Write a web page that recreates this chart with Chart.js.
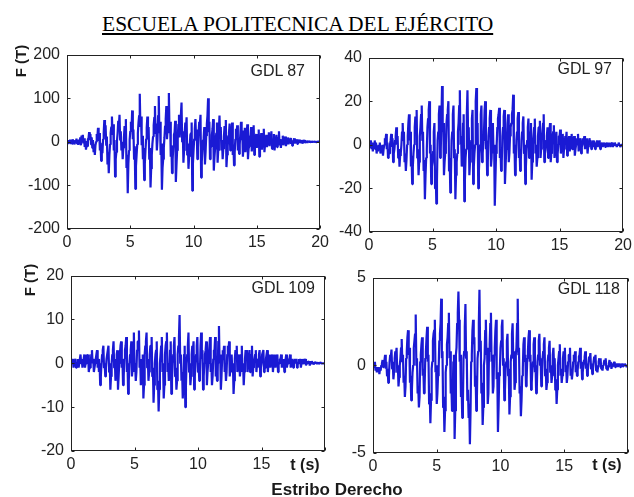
<!DOCTYPE html>
<html>
<head>
<meta charset="utf-8">
<script src="https://cdn.jsdelivr.net/npm/chart.js@4.4.1/dist/chart.umd.min.js"></script>
<style>
  body { margin: 0; background: #fff; }
  #hoja { position: relative; width: 634px; height: 497px; overflow: hidden; background: #fff; }
  canvas { position: absolute; }
  .txt { position: absolute; white-space: nowrap; color: #1a1a1a; font-family: "Liberation Sans", Arial, sans-serif; }
  .centro { transform: translate(-50%, -50%); }
  .vertical { transform: translate(-50%, -50%) rotate(-90deg); font-weight: bold; font-size: 15px; }
  .gdl { font-size: 16px; transform: translate(-100%, -50%); color: #222; }
  .ts { font-size: 16px; font-weight: bold; }
  #titulo { left: 102px; top: 12px; font-family: "Liberation Serif", "Times New Roman", serif; font-size: 21.5px; text-decoration: underline; color: #000; }
</style>
</head>
<body>
<div id="hoja">
  <div class="txt" id="titulo">ESCUELA POLITECNICA DEL EJÉRCITO</div>

  <canvas id="c87"></canvas>
  <canvas id="c97"></canvas>
  <canvas id="c109"></canvas>
  <canvas id="c118"></canvas>

  <div class="txt vertical" style="left:20px; top:61px;">F (T)</div>
  <div class="txt vertical" style="left:29px; top:280px;">F (T)</div>

  <div class="txt gdl" style="left:305px; top:71px;">GDL 87</div>
  <div class="txt gdl" style="left:612px; top:69px;">GDL 97</div>
  <div class="txt gdl" style="left:315px; top:288px;">GDL 109</div>
  <div class="txt gdl" style="left:620px; top:289px;">GDL 118</div>

  <div class="txt ts centro" style="left:305px; top:465px;">t (s)</div>
  <div class="txt ts centro" style="left:607px; top:465px;">t (s)</div>
  <div class="txt ts centro" style="left:337px; top:490px; font-size:17px;">Estribo Derecho</div>
</div>

<script>
// paso de muestreo (s)
const dt = 0.05;

// fuerzas en el estribo derecho (T), 20 muestras por segundo, una fila por segundo
const gdl87 = [
  0, 3, -3, 4, -2, 5, -5, 2, -4, 6, -3, 1, -6, 4, -2, 7, -4, 3, -7, 5,
  -2, 10, -8, 14, 2, 16, -4, 8, -12, 2, -18, -4, -10, 6, 8, 22, 4, 18, -6, 10,
  -14, 4, -24, -6, -30, -8, 0, 18, 10, 32, 2, 20, -20, -2, -44, -18, -26, 6, 20, 50,
  14, 38, -8, 12, -52, -24, -72, -30, -6, 20, 34, 58, 16, 40, -20, 4, -80, -40, -24, 2,
  20, 48, 36, 62, 4, 24, -20, 0, -40, -14, 10, 36, 28, 52, -60, -30, -118, -50, -20, 4,
  24, 46, 30, 72, 6, 28, -40, -10, -108, -56, -30, -6, 20, 44, 60, 110, 34, 58, -8, 14,
  -40, -14, -88, -50, -20, 6, 32, 58, 10, 34, -40, -14, -105, -62, -30, -4, 12, 38, 56, 82,
  18, 42, -20, 4, 60, 105, 20, 46, -30, -4, -110, -60, -40, -14, 10, 36, 52, 82, 6, 30,
  70, 112, 20, 46, -34, -8, -72, -40, -10, 16, 22, 48, -92, -56, -20, 6, 40, 62, 10, 34,
  62, 90, 0, 24, -48, -20, 20, 44, 30, 56, -30, -4, -62, -34, -10, 16, 20, 44, -112, -50,
  -20, 6, 30, 52, 4, 28, -40, -14, 20, 46, 40, 62, -82, -46, -20, 4, 10, 34, -52, -24,
  14, 40, 60, 100, 22, 46, -40, -14, -10, 16, 30, 52, -66, -36, -16, 8, 20, 44, -48, -20,
  26, 60, 10, 34, -20, 4, -40, -16, 12, 36, 24, 50, -58, -30, -10, 14, 20, 42, -20, 2,
  20, 44, -30, -6, -54, -26, 6, 30, 16, 38, -20, 2, -28, -6, 20, 46, 4, 26, -34, -10,
  10, 32, -24, -2, 18, 40, -40, -16, -10, 12, 14, 34, -22, -2, 6, 38, -30, -8, 2, 18,
  -14, 6, 10, 28, -34, -12, 0, 20, -18, 2, 12, 30, -24, -6, 2, 16, -12, 4, 8, 22,
  -10, 8, 4, 24, -16, -2, 6, 18, -20, -4, 2, 16, -12, 2, 10, 24, -8, 6, -14, 0,
  4, 14, -8, 4, 6, 12, -10, -2, 2, 10, -6, 4, 0, 9, -5, 3, -9, 0, 2, 8,
  -4, 3, 0, 6, -5, 1, 2, 5, -3, 2, -1, 4, -4, 0, 1, 4, -3, 1, -1, 3,
  -2, 1, 0, 2, -2, 1, 0, 2, -1, 1, -1, 1, 0, 1, -1, 0, 0, 1, 0, 0,
  0
];

const gdl97 = [
  0, 2, -1, 2, -2, 1, -3, 0, -1, 2, -2, 1, -4, -1, -3, 0, -2, 1, -4, -1,
  -3, 0, -5, -2, 0, 3, 2, 5, -2, 1, -6, -2, -4, 0, 2, 5, -1, 3, -8, -4,
  -2, 2, 4, 8, 0, 4, -6, -2, -10, -5, -4, 0, 6, 10, 2, 6, -8, -4, -12, -7,
  0, 4, 10, 14, 2, 6, -10, -5, -18, -10, -4, 0, 8, 13, 12, 16, -6, -2, -14, -8,
  4, 8, 14, 18, 2, 6, -12, -7, -25, -14, -6, -2, 8, 12, 16, 20, -4, 0, -18, -10,
  -8, -3, 6, 10, -20, -12, -27, -16, 2, 6, 14, 18, -6, -2, 12, 27, 6, 10, -14, -8,
  -4, 0, 10, 14, 16, 20, -12, -6, -22, -14, 2, 6, 14, 18, -6, -2, -25, -14, -8, -4,
  6, 10, 18, 25, 0, 4, -10, -6, 10, 14, -26, -16, -6, -2, 14, 25, 4, 8, -14, -8,
  -2, 2, 12, 16, -18, -10, -4, 0, 20, 26, 6, 10, -20, -12, -4, 0, 14, 18, -8, -4,
  2, 6, 16, 20, -2, 2, -14, -8, 4, 8, 12, 16, -10, -6, 6, 10, -4, 0, -28, -16,
  -4, 0, 8, 12, 14, 17, -6, -2, -12, -8, 4, 8, 13, 16, -18, -10, -2, 2, 10, 14,
  -8, -4, 4, 8, 10, 14, 16, 23, -4, 0, -14, -8, 2, 6, 12, 15, -6, -2, -12, -7,
  2, 6, 10, 13, -4, 0, -18, -10, -2, 2, 8, 12, -6, -2, 6, 10, -16, -8, 0, 4,
  8, 12, -4, 0, -10, -6, 4, 8, 8, 11, -6, -2, 2, 6, 10, 14, -8, -4, -2, 2,
  4, 8, -6, -2, 6, 10, -8, -4, 0, 4, 6, 9, -6, -2, 2, 6, -8, -4, 0, 4,
  4, 7, -4, -1, 2, 5, -6, -2, 0, 4, 2, 6, -5, -2, 1, 4, -3, 0, 2, 5,
  -2, 1, 2, 4, -5, -2, 0, 3, 2, 5, -3, 0, 1, 3, -4, -1, 0, 3, 2, 4,
  -2, 0, 1, 3, -4, -1, 0, 3, 1, 2, -2, 0, 0, 2, -1, 1, -2, 0, 1, 2,
  -1, 1, 0, 2, -2, 0, 0, 1, -1, 1, 0, 1, -1, 0, 0, 1, -1, 0, 0, 1,
  -1, 0, 0, 1, -1, 0, 0, 1, 0, 0, -1, 0, 0, 1, 0, 0, -1, 0, 0, 0,
  0
];

const gdl109 = [
  0, 1, 0, 1, -1, 0, 0, 1, -1, 0, 0, 1, -1, 0, 1, 2, 0, 1, -1, 0,
  1, 2, -1, 0, 0, 2, 1, 2, -2, -1, -1, 0, 2, 3, 0, 1, -2, -1, 0, 1,
  2, 3, -1, 1, -2, 0, -5, -3, 0, 2, 3, 4, -1, 0, -3, -1, 1, 2, 2, 4,
  -2, 0, -6, -3, 0, 2, 3, 5, -1, 1, -4, -2, 2, 3, -6, -3, 0, 2, 4, 5,
  -1, 1, -5, -3, 1, 3, 4, 6, -2, 0, -7, -4, 0, 2, 3, 5, -3, -1, 4, 7,
  -2, 0, -4, -2, 3, 5, 5, 7.5, -1, 1, -5, -3, 0, 2, -8, -5, 2, 4, 5, 7,
  -1, 1, -4, -2, 2, 4, 4, 6, -3, -1, -9, -5, 0, 2, 3, 5, -6, -4, -11, -6,
  0, 2, 4, 6, -2, 0, -8, -5, 2, 4, 5, 7, -2, 0, -4, -2, 3, 5, -7, -4,
  0, 2, 4, 6, -3, -1, -6, -4, 2, 4, 6, 11, 0, 2, -4, -2, -8, -5, 2, 4,
  -10, -5, 0, 2, 4, 7, -2, 0, -5, -3, 2, 4, 3, 5, -6, -3, 0, 2, 4, 6,
  -2, 0, -4, -2, 4, 7, 1, 3, -6, -3, 0, 2, 3, 5, -5, -2, 0, 2, 4, 6,
  -2, 0, -5, -3, 1, 3, 3, 6, -3, -1, -4, -2, 5, 8.5, 0, 2, -6, -3, 1, 3,
  2, 4, -2, 0, -4, -2, 2, 4, 3, 5, -3, -1, 0, 2, -2, 0, -7, -4, 1, 3,
  2, 4, -2, 0, 0, 2, -3, -1, 2, 4, -2, 0, -5, -2, 1, 3, 2, 3, -2, 0,
  1, 3, -2, 0, 2, 4, -3, -1, 0, 1, 2, 3, -2, 0, -1, 1, 2, 3, -3, -1,
  0, 2, 2, 3, -2, 0, -1, 1, 2, 3, -2, 0, 0, 2, -1, 1, 1, 2, -2, 0,
  0, 2, -1, 1, 1, 2, -2, 0, 0, 1, 1, 2, -1, 0, 0, 1, -2, 0, 1, 2,
  -1, 0, 0, 1, 1, 2, -1, 0, 0, 1, -1, 0, 0, 1, 0, 1, -1, 0, 0, 1,
  0, 1, -1, 0, 0, 1, 0, 0, 0, 1, -0.5, 0, 0, 0.5, 0, 0.5, -0.5, 0, 0, 0.5,
  0, 0.3, -0.3, 0, 0, 0.3, 0, 0, 0, 0.2, -0.2, 0, 0, 0.2, 0, 0, 0, 0, 0, 0,
  0
];

const gdl118 = [
  0, 0.2, -0.1, 0.2, -0.3, -0.1, -0.4, -0.2, -0.3, -0.1, -0.5, -0.2, -0.3, 0, 0.1, 0.3, -0.1, 0.2, 0.3, 0.6,
  -0.2, 0.2, -0.6, -0.2, -1.0, -0.6, 0.2, 0.6, 0.5, 0.9, -0.2, 0.2, -0.8, -0.4, 0.4, 0.8, 0.6, 1.0, -0.4, 0,
  -1.2, -0.7, 0, 0.4, 1.0, 1.5, 0.2, 0.6, -1.0, -0.6, -1.8, -1.2, 0.4, 0.8, 1.6, 2.0, 0.6, 1.0, -1.0, -0.6,
  -2.0, -1.4, -0.4, 0, 1.0, 1.4, 1.8, 2.9, 0, 0.4, -1.6, -1.2, -2.4, -1.8, 0.2, 0.6, 1.2, 1.6, -0.6, -0.2,
  -1.6, -1.2, 0.4, 0.8, 1.6, 2.2, 0.2, 0.6, -2.2, -1.6, -3.3, -2.0, -0.2, 0.2, 1.4, 1.8, 2.0, 2.6, -0.4, 0,
  -2.2, -1.6, -0.6, -0.2, 1.4, 1.8, 2.4, 3.8, 0.4, 0.8, -2.4, -1.8, -3.8, -2.6, -0.4, 0, 1.2, 1.6, 2.4, 3.0,
  0.4, 0.8, -1.6, -1.2, -2.6, -1.8, 0.2, 0.6, -4.2, -2.6, 0.6, 1.0, 2.4, 3.0, 4.2, 2.6, 0.2, 0.6, -1.8, -1.2,
  -3.0, -2.2, 0.4, 0.8, 2.2, 3.5, 0.4, 0.8, -2.0, -1.4, -3.0, -2.2, -4.5, -2.6, 0.2, 0.6, 2.0, 2.6, 1.2, 1.6,
  -1.2, -0.6, -2.6, -1.8, 0.4, 0.8, 2.4, 4.3, 1.0, 1.4, -1.6, -1.0, -3.4, -2.4, 0, 0.4, 2.0, 2.6, 0.6, 1.0,
  -2.2, -1.6, 0.8, 1.2, 2.4, 3.0, 0.2, 0.6, -1.6, -1.2, 0.6, 1.0, 2.0, 2.6, -0.8, -0.4, -3.8, -2.4, -0.6, -0.2,
  1.0, 1.4, 2.2, 2.6, 0, 0.4, -2.0, -1.4, -0.2, 0.2, 1.4, 1.8, -0.6, -0.2, -2.8, -1.8, 0.2, 0.6, 1.8, 2.4,
  0.4, 0.8, -1.4, -1.0, 0.6, 1.0, 2.4, 3.8, 0.6, 1.0, -1.6, -1.2, -2.9, -2.0, -0.6, -0.2, 1.2, 1.6, 0.2, 0.6,
  -1.2, -0.8, 0.4, 0.8, 1.6, 2.0, 0.2, 0.6, -1.4, -1.0, -0.2, 0.2, 1.2, 1.6, -0.4, 0, -1.6, -1.2, 0.2, 0.6,
  1.4, 1.8, 0, 0.4, -1.2, -0.8, 0.4, 0.8, 1.2, 1.6, -0.6, -0.2, -1.4, -1.0, 0.2, 0.6, 1.0, 1.4, -0.4, 0,
  -1.0, -0.6, 0.6, 1.0, 0, 0.4, -1.4, -0.8, -2.2, -1.4, 0, 0.4, 0.8, 1.2, -0.6, -0.2, -1.0, -0.6, 0.4, 0.8,
  0.6, 1.0, -0.4, 0, -1.0, -0.6, 0.2, 0.6, 0.6, 1.0, -0.6, -0.2, -0.8, -0.4, 0.2, 0.6, 0.4, 0.8, -0.4, 0,
  -0.6, -0.3, 0.2, 0.5, 0.6, 1.0, -0.2, 0.2, -0.8, -0.4, 0, 0.3, 0.5, 0.8, -0.2, 0.1, -0.6, -0.3, 0.2, 0.5,
  0.4, 0.7, -0.2, 0.1, -0.5, -0.2, 0.2, 0.5, 0.3, 0.6, -0.3, 0, -0.4, -0.1, 0.2, 0.4, 0.1, 0.4, -0.2, 0,
  -0.3, 0, 0.1, 0.3, 0.2, 0.4, -0.2, 0, -0.3, -0.1, 0.1, 0.3, 0, 0.2, -0.2, 0, -0.1, 0.1, 0.1, 0.2,
  -0.1, 0.1, 0, 0.1, -0.1, 0.1, 0, 0.1, -0.1, 0, 0, 0.1, -0.1, 0, 0, 0.1, 0, 0, -0.1, 0,
  0
];

// ticks de cada eje
const ticksT = [0, 5, 10, 15, 20];
const ticks87 = [-200, -100, 0, 100, 200];
const ticks97 = [-40, -20, 0, 20, 40];
const ticks109 = [-20, -10, 0, 10, 20];
const ticks118 = [-5, 0, 5];

const ANCHO_Y = 60, ALTO_X = 26, MARGEN = 12;

// recuadro y marcas hacia adentro, estilo matlab
const marco = {
  id: 'marco',
  afterDraw(chart) {
    const ctx = chart.ctx;
    const a = chart.chartArea;
    const L = Math.round(a.left) + 0.5, R = Math.round(a.right) - 0.5;
    const T = Math.round(a.top) + 0.5, B = Math.round(a.bottom) - 0.5;
    ctx.save();
    ctx.strokeStyle = '#222';
    ctx.lineWidth = 1;
    ctx.beginPath();
    chart.scales.x.ticks.forEach(t => {
      const px = Math.round(chart.scales.x.getPixelForValue(t.value)) + 0.5;
      ctx.moveTo(px, B); ctx.lineTo(px, B - 3);
      ctx.moveTo(px, T); ctx.lineTo(px, T + 3);
    });
    chart.scales.y.ticks.forEach(t => {
      const py = Math.round(chart.scales.y.getPixelForValue(t.value)) + 0.5;
      ctx.moveTo(L, py); ctx.lineTo(L + 3, py);
      ctx.moveTo(R, py); ctx.lineTo(R - 3, py);
    });
    ctx.stroke();
    ctx.strokeRect(L, T, R - L, B - T);
    ctx.restore();
  }
};

function grafico(id, caja, valores, ticksY, etiqueta20) {
  const cv = document.getElementById(id);
  const izq = caja.l - ANCHO_Y, arriba = caja.t - MARGEN;
  const w = caja.r + MARGEN - izq, h = caja.b + ALTO_X - arriba;
  cv.style.left = izq + 'px';
  cv.style.top = arriba + 'px';
  cv.width = w; cv.height = h;
  cv.style.width = w + 'px'; cv.style.height = h + 'px';

  const fuente = { family: '"Liberation Sans", Arial, sans-serif', size: 16 };

  new Chart(cv, {
    type: 'line',
    data: {
      datasets: [{
        data: valores.map((v, i) => ({ x: i * dt, y: v })),
        borderColor: '#1a1ad4',
        borderWidth: 2.2,
        borderJoinStyle: 'bevel',
        pointRadius: 0,
        tension: 0
      }]
    },
    options: {
      responsive: false,
      animation: false,
      events: [],
      layout: { padding: { top: MARGEN, right: MARGEN, left: 0, bottom: 0 } },
      plugins: { legend: { display: false }, tooltip: { enabled: false } },
      scales: {
        x: {
          type: 'linear',
          min: 0, max: 20,
          afterBuildTicks: s => { s.ticks = ticksT.map(v => ({ value: v })); },
          afterFit: s => { s.height = ALTO_X; },
          ticks: {
            padding: 4, color: '#222', font: fuente, maxRotation: 0,
            callback: v => (v === 20 && !etiqueta20) ? '' : String(v)
          },
          grid: { display: false, drawTicks: false },
          border: { display: false }
        },
        y: {
          min: ticksY[0], max: ticksY[ticksY.length - 1],
          afterBuildTicks: s => { s.ticks = ticksY.map(v => ({ value: v })); },
          afterFit: s => { s.width = ANCHO_Y; },
          ticks: { padding: 7, color: '#222', font: fuente },
          grid: { display: false, drawTicks: false },
          border: { display: false }
        }
      }
    },
    plugins: [marco]
  });
}

grafico('c87', { l: 67, t: 50, r: 321, b: 229 }, gdl87, ticks87, true);
grafico('c97', { l: 369, t: 53, r: 624, b: 232 }, gdl97, ticks97, true);
grafico('c109', { l: 71, t: 271, r: 325, b: 451 }, gdl109, ticks109, false);
grafico('c118', { l: 373, t: 273, r: 628, b: 453 }, gdl118, ticks118, false);
</script>
</body>
</html>
